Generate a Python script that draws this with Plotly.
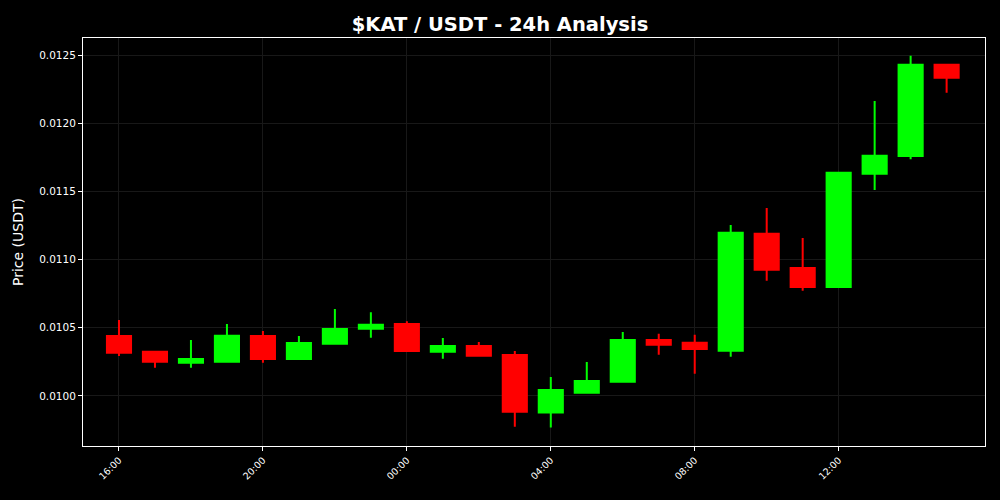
import plotly.graph_objects as go
import pandas as pd

times = pd.date_range("2024-01-01 16:00", periods=24, freq="h")
opens  = [0.010440, 0.010325, 0.010244, 0.010251, 0.010440, 0.010271, 0.010383, 0.010493,
          0.010528, 0.010325, 0.010367, 0.010301, 0.009878, 0.010024, 0.010105, 0.010411,
          0.010391, 0.010332, 0.011190, 0.010938, 0.010799, 0.011630, 0.011760, 0.012429]
highs  = [0.010557, 0.010330, 0.010411, 0.010528, 0.010477, 0.010440, 0.010638, 0.010614,
          0.010548, 0.010425, 0.010396, 0.010330, 0.010139, 0.010249, 0.010469, 0.010457,
          0.010449, 0.011254, 0.011378, 0.011158, 0.011642, 0.012163, 0.012495, 0.012434]
lows   = [0.010293, 0.010207, 0.010207, 0.010244, 0.010244, 0.010271, 0.010383, 0.010427,
          0.010330, 0.010273, 0.010290, 0.009775, 0.009768, 0.010017, 0.010098, 0.010303,
          0.010163, 0.010288, 0.010845, 0.010772, 0.010799, 0.011510, 0.011735, 0.012224]
closes = [0.010317, 0.010251, 0.010271, 0.010442, 0.010271, 0.010389, 0.010491, 0.010523,
          0.010330, 0.010367, 0.010295, 0.009885, 0.010044, 0.010110, 0.010411, 0.010376,
          0.010345, 0.011197, 0.010926, 0.010799, 0.011637, 0.011762, 0.012429, 0.012334]

y_ticks = [0.0100, 0.0105, 0.0110, 0.0115, 0.0120, 0.0125]
x_ticks = pd.date_range("2024-01-01 16:00", periods=6, freq="4h")

fig = go.Figure(go.Candlestick(
    x=times, open=opens, high=highs, low=lows, close=closes,
    increasing=dict(line=dict(color="#00ff00", width=2), fillcolor="#00ff00"),
    decreasing=dict(line=dict(color="#ff0000", width=2), fillcolor="#ff0000"),
    whiskerwidth=0,
))

fig.update_layout(
    width=1000, height=500,
    paper_bgcolor="#000000", plot_bgcolor="#000000",
    margin=dict(l=83, r=15, t=38, b=54),
    boxgap=0.33, boxgroupgap=0,
    showlegend=False,
    font=dict(family="DejaVu Sans", color="white", size=10),
    title=dict(text="<b>$KAT / USDT - 24h Analysis</b>", x=0.5, xanchor="center",
               y=0.952, yanchor="middle", font=dict(size=19.5, color="white")),
    xaxis=dict(
        rangeslider=dict(visible=False),
        range=[pd.Timestamp("2024-01-01 15:00"), pd.Timestamp("2024-01-02 16:04")],
        tickvals=list(x_ticks), tickformat="%H:%M", tickangle=-45,
        showline=True, linecolor="white", linewidth=1, mirror=True,
        ticks="outside", ticklen=4, tickcolor="white",
        showgrid=True, gridcolor="#181818", gridwidth=1, zeroline=False,
        tickfont=dict(size=9.5, color="white"),
    ),
    yaxis=dict(
        title=dict(text="Price (USDT)", font=dict(size=14, color="white"), standoff=12),
        range=[0.009633, 0.012625],
        tickvals=y_ticks, tickformat=".4f",
        showline=True, linecolor="white", linewidth=1, mirror=True,
        ticks="outside", ticklen=4, tickcolor="white",
        showgrid=True, gridcolor="#181818", gridwidth=1, zeroline=False,
        tickfont=dict(size=10.5, color="white"),
    ),
)

fig.write_html("out.html", config={"displayModeBar": False},
               post_script="document.body.style.margin='0';document.body.style.background='#000';")
